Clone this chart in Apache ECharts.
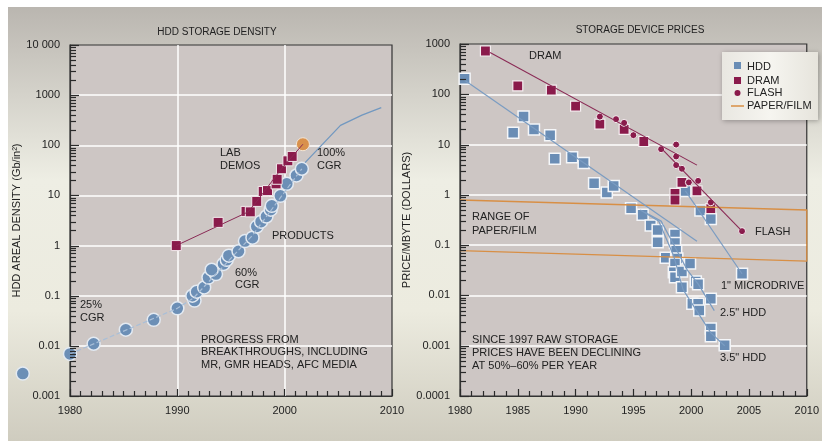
<!DOCTYPE html>
<html>
<head>
<meta charset="utf-8">
<script src="https://cdn.jsdelivr.net/npm/echarts@6/dist/echarts.min.js"></script>
<style>
html, body { margin: 0; padding: 0; background: #fff; }
#chart { width: 822px; height: 441px; }
</style>
</head>
<body>
<div id="chart"></div>
<script>
// ---- left panel: HDD areal density (Gb/in2) ----
var ramacPoint = [[1975.6, 0.0028]];
var productPoints = [
  [1980, 0.0069], [1982.2, 0.011], [1985.2, 0.021], [1987.8, 0.033], [1990, 0.056],
  [1991.6, 0.08], [1991.4, 0.1], [1991.8, 0.12], [1992.5, 0.146], [1992.9, 0.23],
  [1993.6, 0.27], [1993.2, 0.33], [1994.3, 0.43], [1994.6, 0.52], [1994.8, 0.63],
  [1995.7, 0.77], [1996.3, 1.23], [1997.0, 1.44], [1997.4, 2.4], [1997.8, 3.0],
  [1998.3, 3.8], [1998.7, 5.2], [1998.8, 6.2], [1999.6, 9.8], [2000.2, 17],
  [2001.1, 25], [2001.6, 34]
];
var productTrend = [[1980, 0.0069], [1990, 0.056], [1991.5, 0.09], [1997, 1.6], [2001.6, 34]];
var cgrLine = [[2001.9, 45], [2005.2, 250], [2007.2, 400], [2009, 565]];
var labDemoPoints = [
  [1989.9, 1], [1993.8, 2.9], [1996.4, 4.8], [1996.8, 4.7], [1997.4, 7.6], [1998.0, 12],
  [1998.4, 12.5], [1999.2, 17], [1999.3, 21], [1999.7, 34], [2000.3, 49], [2000.7, 60]
];
var labDemoTrend = [[1989.9, 1], [1996.6, 4.7], [1997.4, 7.6], [1999.7, 34], [2001.7, 105]];
var newestDemo = [[2001.7, 105]];

// ---- right panel: price per MByte (dollars) ----
var hddPrices = [
  [1980.4, 204], [1984.6, 17.1], [1985.5, 36], [1986.4, 20], [1987.8, 15.4], [1988.2, 5.2],
  [1989.7, 5.6], [1990.7, 4.3], [1991.6, 1.7], [1992.7, 1.12], [1993.3, 1.5], [1994.8, 0.54],
  [1995.8, 0.4], [1996.5, 0.245], [1997.1, 0.2], [1997.1, 0.114], [1997.8, 0.056],
  [1998.6, 0.163], [1998.6, 0.11], [1998.7, 0.077], [1998.8, 0.054], [1998.6, 0.043],
  [1998.5, 0.029], [1998.6, 0.023], [1999.2, 0.03], [1999.9, 0.043], [1999.2, 0.0146],
  [2000.4, 0.019], [2000.6, 0.0167], [2000.1, 0.0068], [2000.6, 0.0068], [2000.7, 0.005],
  [2001.7, 0.0086], [2001.7, 0.0022], [2001.7, 0.00154], [2002.9, 0.00102],
  [1999.5, 1.2], [2000.8, 0.49], [2001.7, 0.33], [2004.4, 0.027]
];
var dramPrices = [
  [1982.2, 726], [1985.0, 147], [1987.9, 121], [1990.0, 58], [1992.1, 25.5], [1994.2, 20],
  [1995.9, 11.5], [1999.2, 1.77], [1998.6, 1.07], [1998.6, 0.79], [2000.5, 1.2], [2001.7, 0.53]
];
var flashPrices = [
  [1992.1, 36], [1993.5, 32], [1994.2, 27], [1995.0, 15.4], [1997.4, 8.1], [1998.7, 10],
  [1998.7, 5.8], [1998.7, 3.9], [1999.2, 3.3], [1999.8, 1.77], [2000.6, 1.9], [2001.7, 0.71],
  [2004.4, 0.19]
];
var hddTrend = [[1980.4, 190], [2000.5, 0.12]];
var hdd35Trend = [[1995.6, 0.5], [1997.2, 0.3], [1998.5, 0.06], [1999.3, 0.013], [2001.7, 0.0018], [2002.9, 0.001]];
var hdd25Trend = [[1996, 0.45], [1997.4, 0.3], [1999.7, 0.031], [2000.6, 0.017], [2002.0, 0.005]];
var microdriveTrend = [[1999.5, 1.2], [2004.4, 0.027]];
var dramTrend = [[1982.6, 680], [2000.5, 3.9]];
var flashTrend = [[1997.4, 8.5], [2004.4, 0.19]];
var paperFilmRange = [[1980, 0.79], [2010, 0.5], [2010, 0.048], [1980, 0.078]];

var leftYears = [1980, 2010];
var rightYears = [1980, 2010];
var densityRange = [0.001, 10000];
var priceRange = [0.0001, 1000];

var chart = echarts.init(document.getElementById('chart'));

var FONT = '"Liberation Sans", Arial, sans-serif';
var INK = '#222';
var TICK = '#2a2a2a';
var BLUE = '#6c8fb6';
var MAROON = '#8a1a4b';
var ORANGE = '#d88f45';

function logLabel(v) {
  if (v >= 10000) return '10 000';
  return String(+v.toPrecision(3));
}

// 2..9 x 10^k positions for the minor ticks of a log axis
function logMinorValues(range) {
  var out = [];
  for (var d = range[0]; d < range[1]; d *= 10) {
    for (var m = 2; m <= 9; m++) out.push(+(m * d).toPrecision(3));
  }
  return out;
}

function txt(x, y, s, opts) {
  return Object.assign({
    type: 'text', x: x, y: y, z: 100,
    style: { text: s, font: '11px ' + FONT, fill: INK, textVerticalAlign: 'middle' }
  }, opts || {});
}

function yAxisBase(grid, range, name) {
  return {
    type: 'log', logBase: 10, gridIndex: grid, min: range[0], max: range[1], splitNumber: 7,
    name: name, nameLocation: 'middle', nameGap: 40,
    nameTextStyle: { color: INK, fontSize: 11, fontFamily: FONT },
    axisLine: { show: true, lineStyle: { color: '#333', width: 1.2 } },
    axisTick: { show: false },
    axisLabel: { color: INK, fontSize: 11, fontFamily: FONT, margin: 10, formatter: logLabel },
    splitLine: { show: true, showMinLine: false, showMaxLine: false, lineStyle: { color: '#fff', width: 1.5 } }
  };
}

function xAxisBase(grid, range, step, split) {
  return {
    type: 'value', gridIndex: grid, min: range[0], max: range[1], interval: step,
    axisLine: { show: true, onZero: false, lineStyle: { color: '#333', width: 1.2 } },
    axisTick: { show: true, inside: true, length: 7, lineStyle: { color: TICK, width: 1.2 } },
    minorTick: { show: true, splitNumber: step === 10 ? 10 : 5, length: 5, lineStyle: { color: TICK, width: 1.2 } },
    axisLabel: { color: INK, fontSize: 11, fontFamily: FONT, margin: 9, formatter: function (v) { return String(v); } },
    splitLine: { show: split, showMinLine: false, showMaxLine: false, lineStyle: { color: '#fff', width: 1.5 } }
  };
}

// minor (2..9) and major (decade) ticks of a log y axis, drawn inside the plot
function logTicks(gi, xmin, range) {
  var vals = logMinorValues(range);
  for (var d = range[0]; d <= range[1] * 1.0001; d *= 10) vals.push(+d.toPrecision(3));
  return {
    type: 'custom', xAxisIndex: gi, yAxisIndex: gi, silent: true, z: 20,
    data: vals.map(function (v) { return [xmin, v]; }),
    renderItem: function (params, api) {
      var v = api.value(1);
      var major = Math.abs(Math.log10(v) - Math.round(Math.log10(v))) < 1e-6;
      var p = api.coord([api.value(0), v]);
      var y = Math.round(p[1]) + 0.5;
      return { type: 'line', shape: { x1: p[0], y1: y, x2: p[0] + (major ? 9 : 6), y2: y },
        style: { stroke: TICK, lineWidth: 1.2 } };
    }
  };
}

function line(xi, data, color, width, dashed) {
  return {
    type: 'line', xAxisIndex: xi, yAxisIndex: xi, data: data, symbol: 'none', silent: true,
    lineStyle: { color: color, width: width, type: dashed ? 'dashed' : 'solid' }
  };
}

function dots(xi, data, symbol, size, color, border, bw) {
  return {
    type: 'scatter', xAxisIndex: xi, yAxisIndex: xi, data: data, symbol: symbol, symbolSize: size,
    itemStyle: { color: color, borderColor: border, borderWidth: bw, opacity: 1 }
  };
}

var option = {
  backgroundColor: '#fff',
  animation: false,
  grid: [
    { left: 70, top: 45, width: 322, height: 351, show: true, backgroundColor: '#cdc6c4', borderColor: '#333', borderWidth: 1.2 },
    { left: 460, top: 44, width: 350, height: 352, show: true, backgroundColor: '#cdc6c4', borderColor: '#333', borderWidth: 1.2 }
  ],
  xAxis: [
    xAxisBase(0, leftYears, 10, true),
    xAxisBase(1, rightYears, 5, false)
  ],
  yAxis: [
    yAxisBase(0, densityRange, 'HDD AREAL DENSITY (Gb/in²)'),
    yAxisBase(1, priceRange, 'PRICE/MBYTE (DOLLARS)')
  ],
  series: [
    line(0, productTrend, '#a9bfd8', 1.2, true),
    line(0, cgrLine, '#7298c0', 1.3),
    line(0, labDemoTrend, '#8a2a55', 1),
    dots(0, productPoints, 'circle', 13, BLUE, '#e3eaf2', 1.5),
    Object.assign(dots(0, ramacPoint, 'circle', 13, BLUE, '#e3eaf2', 1.5), { clip: false }),
    dots(0, labDemoPoints, 'rect', 10, MAROON, '#f2e9ec', 1),
    dots(0, newestDemo, 'circle', 13, '#d9914c', '#f3e6d6', 1),

    line(1, paperFilmRange, ORANGE, 1.3),
    line(1, dramTrend, '#8a2a55', 1.1),
    line(1, flashTrend, '#8a2a55', 1.1),
    line(1, hddTrend, '#7a9cc2', 1.2),
    line(1, hdd35Trend, '#7a9cc2', 1.2),
    line(1, hdd25Trend, '#7a9cc2', 1.2),
    line(1, microdriveTrend, '#7a9cc2', 1.2),
    dots(1, hddPrices, 'rect', 11, '#6a8db5', '#f4f6f9', 1.5),
    dots(1, dramPrices, 'rect', 10, MAROON, '#f4eef0', 1.2),
    dots(1, flashPrices, 'circle', 7, MAROON, '#f4eef0', 1),

    logTicks(0, leftYears[0], densityRange),
    logTicks(1, rightYears[0], priceRange)
  ],
  graphic: [
    { type: 'rect', z: -100, shape: { x: 8, y: 7, width: 814, height: 434 },
      style: { fill: new echarts.graphic.LinearGradient(0, 0, 0, 1, [
        { offset: 0, color: '#bab6b0' }, { offset: 0.4, color: '#eeeee4' },
        { offset: 0.7, color: '#ecebdf' }, { offset: 1, color: '#cfccbf' }]) } },

    txt(217, 32, 'HDD STORAGE DENSITY', { style: { text: 'HDD STORAGE DENSITY', font: '10px ' + FONT, fill: INK, textAlign: 'center', textVerticalAlign: 'middle' } }),
    txt(640, 30, 'STORAGE DEVICE PRICES', { style: { text: 'STORAGE DEVICE PRICES', font: '10px ' + FONT, fill: INK, textAlign: 'center', textVerticalAlign: 'middle' } }),

    txt(220, 153, 'LAB'), txt(220, 166, 'DEMOS'),
    txt(317, 153, '100%'), txt(317, 166, 'CGR'),
    txt(272, 236, 'PRODUCTS'),
    txt(235, 273, '60%'), txt(235, 285, 'CGR'),
    txt(80, 305, '25%'), txt(80, 318, 'CGR'),
    txt(201, 340, 'PROGRESS FROM'),
    txt(201, 352, 'BREAKTHROUGHS, INCLUDING'),
    txt(201, 365, 'MR, GMR HEADS, AFC MEDIA'),

    txt(529, 56, 'DRAM'),
    txt(472, 217, 'RANGE OF'), txt(472, 231, 'PAPER/FILM'),
    txt(755, 232, 'FLASH'),
    txt(721, 286, '1" MICRODRIVE'),
    txt(720, 313, '2.5" HDD'),
    txt(720, 358, '3.5" HDD'),
    txt(472, 340, 'SINCE 1997 RAW STORAGE'),
    txt(472, 353, 'PRICES HAVE BEEN DECLINING'),
    txt(472, 366, 'AT 50%–60% PER YEAR'),

    // legend box
    { type: 'rect', z: 90, shape: { x: 722, y: 52, width: 96, height: 68 },
      style: { fill: new echarts.graphic.LinearGradient(0, 0, 1, 0, [
        { offset: 0, color: '#e9e7e1' }, { offset: 0.5, color: '#f6f5f0' }, { offset: 1, color: '#e6e4dc' }]),
        shadowBlur: 5, shadowColor: 'rgba(0,0,0,0.3)', shadowOffsetX: 1, shadowOffsetY: 1 } },
    { type: 'rect', z: 95, shape: { x: 734, y: 62, width: 7, height: 7 }, style: { fill: '#6a8db5' } },
    { type: 'rect', z: 95, shape: { x: 734, y: 77, width: 7, height: 7 }, style: { fill: MAROON } },
    { type: 'circle', z: 95, shape: { cx: 737.5, cy: 93, r: 3 }, style: { fill: MAROON } },
    { type: 'line', z: 95, shape: { x1: 731, y1: 106, x2: 744, y2: 106 }, style: { stroke: ORANGE, lineWidth: 1.5 } },
    txt(747, 67, 'HDD'), txt(747, 81, 'DRAM'), txt(747, 93, 'FLASH'), txt(747, 106, 'PAPER/FILM')
  ]
};

chart.setOption(option);
</script>
</body>
</html>
